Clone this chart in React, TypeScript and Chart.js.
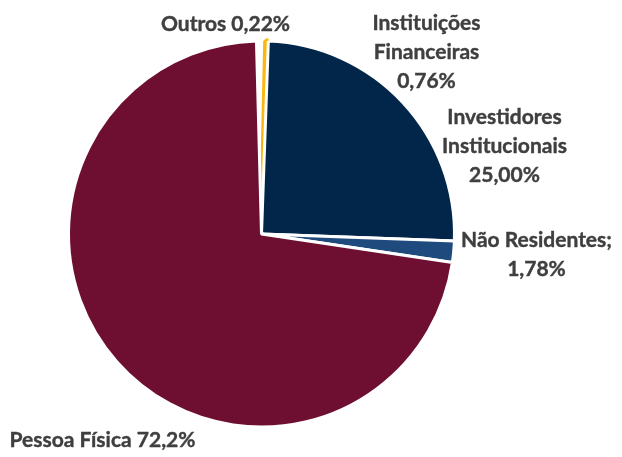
import React, { useEffect, useRef } from "react";
import { Chart, registerables } from "chart.js";

Chart.register(...registerables);

const categories = [
  "Instituições Financeiras",
  "Outros",
  "Investidores Institucionais",
  "Não Residentes",
  "Pessoa Física",
];
const values = [0.76, 0.22, 25.0, 1.78, 72.2];
const colors = ["#FFFFFF", "#F9B814", "#02264A", "#1F4A7E", "#6E0E30"];
const borderColors = ["#FFFFFF", "#F9B814", "#FFFFFF", "#FFFFFF", "#FFFFFF"];
const borderWidths = [3, 5, 3, 3, 3];

// label text lines per slice, in the same order as categories
const labelLines = [
  ["Instituições", "Financeiras", "0,76%"],
  ["Outros 0,22%"],
  ["Investidores", "Institucionais", "25,00%"],
  ["Não Residentes;", "1,78%"],
  ["Pessoa Física 72,2%"],
];
// label centre offsets relative to pie centre (dx, dy of first line)
const labelOffsets = [
  [165, -211],
  [-36, -210],
  [243, -117],
  [275, 6],
  [-159, 206],
];

const FONT = "bold 21px Lato";
const LINE_H = 29;

const labelPlugin = {
  id: "sliceLabels",
  afterDatasetsDraw(chart: any) {
    const meta = chart.getDatasetMeta(0);
    const arc = meta.data[0];
    if (!arc) return;
    const cx = arc.x;
    const cy = arc.y;
    const ctx = chart.ctx;
    ctx.save();
    ctx.font = FONT;
    ctx.fillStyle = "#3F3F3F";
    ctx.strokeStyle = "#3F3F3F";
    ctx.lineWidth = 0.4;
    ctx.textAlign = "center";
    ctx.textBaseline = "middle";
    labelLines.forEach((lines, i) => {
      const [dx, dy] = labelOffsets[i];
      lines.forEach((t, j) => {
        ctx.fillText(t, cx + dx, cy + dy + j * LINE_H);
        ctx.strokeText(t, cx + dx, cy + dy + j * LINE_H);
      });
    });
    ctx.restore();
  },
};

export default function App() {
  const ref = useRef<HTMLCanvasElement>(null);
  useEffect(() => {
    if (!ref.current) return;
    const chart = new Chart(ref.current, {
      type: "pie",
      data: {
        labels: categories,
        datasets: [
          {
            data: values,
            backgroundColor: colors,
            borderColor: borderColors,
            borderWidth: borderWidths,
          },
        ],
      },
      options: {
        animation: false,
        responsive: false,
        rotation: -1.5,
        layout: { padding: { left: 66, right: 165, top: 38.5, bottom: 27.5 } },
        plugins: {
          legend: { display: false },
          tooltip: { enabled: false },
        },
      },
      plugins: [labelPlugin],
    });
    return () => chart.destroy();
  }, []);
  return (
    <div style={{ position: "absolute", left: 0, top: 0, width: 622, height: 457, background: "#fff" }}>
      <canvas ref={ref} width={622} height={457} style={{ width: 622, height: 457 }} />
    </div>
  );
}
